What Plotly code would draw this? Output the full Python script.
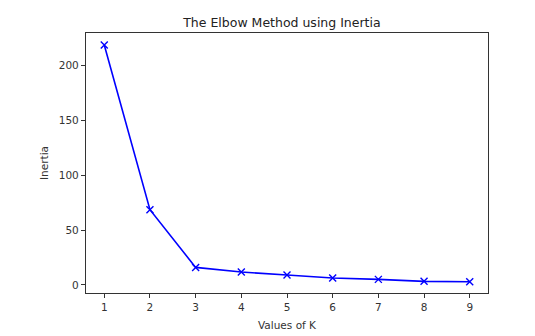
import plotly.graph_objects as go

# Number of clusters tried and resulting inertia
k_values = [1, 2, 3, 4, 5, 6, 7, 8, 9]
inertia = [218.5, 68.5, 16.0, 11.8, 9.1, 6.4, 5.1, 3.3, 3.0]
y_ticks = [0, 50, 100, 150, 200]

fig = go.Figure(
    go.Scatter(
        x=k_values,
        y=inertia,
        mode="lines+markers",
        line=dict(color="#0000ff", width=1.6),
        marker=dict(symbol="x-thin", size=7, line=dict(color="#0000ff", width=1.4)),
    )
)

axis_common = dict(
    showline=True,
    mirror=True,
    linecolor="#333333",
    linewidth=1.2,
    ticks="outside",
    ticklen=4,
    tickcolor="#333333",
    showgrid=False,
    zeroline=False,
    automargin=False,
    tickfont=dict(family="DejaVu Sans", size=10.5, color="#333333"),
)

fig.update_layout(
    width=535,
    height=336,
    margin=dict(l=86, r=47, t=33, b=43),
    paper_bgcolor="white",
    plot_bgcolor="white",
    showlegend=False,
    title=dict(
        text="The Elbow Method using Inertia",
        x=0.527,
        xanchor="center",
        y=1 - 23 / 336,
        yanchor="middle",
        font=dict(family="DejaVu Sans", size=12.5, color="#222222"),
    ),
    xaxis=dict(
        axis_common,
        range=[0.6, 9.4],
        tickvals=k_values,
        title=dict(text="Values of K", standoff=9,
                   font=dict(family="DejaVu Sans", size=10.5, color="#333333")),
    ),
    yaxis=dict(
        axis_common,
        range=[-7.3, 229.4],
        tickvals=y_ticks,
        title=dict(text="Inertia", standoff=8,
                   font=dict(family="DejaVu Sans", size=10.5, color="#333333")),
    ),
)

fig.write_html("out.html")
